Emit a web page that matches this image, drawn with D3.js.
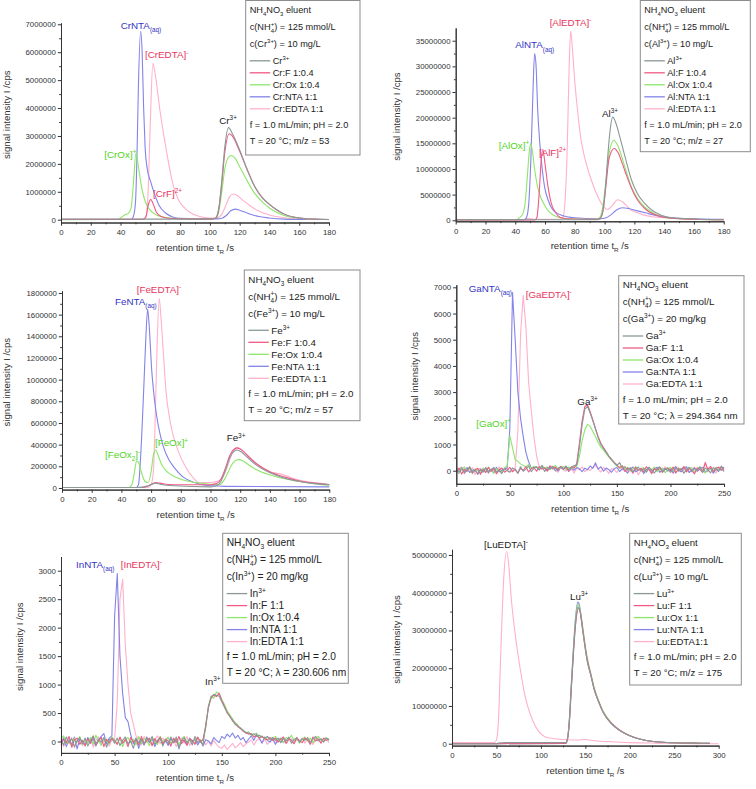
<!DOCTYPE html>
<html>
<head>
<meta charset="utf-8">
<script src="https://cdn.jsdelivr.net/npm/d3@7"></script>
<style>
body { margin: 0; background: #fff; }
svg { display: block; font-family: Arial, "Liberation Sans", sans-serif; }
</style>
</head>
<body>
<svg id="chart" width="756" height="789"></svg>
<script>
// ---------- data ----------
const ticks180 = [0, 20, 40, 60, 80, 100, 120, 140, 160, 180];
const ticks250 = [0, 50, 100, 150, 200, 250];
const ticks300 = [0, 50, 100, 150, 200, 250, 300];
const crTicks = [0, 1e6, 2e6, 3e6, 4e6, 5e6, 6e6, 7e6];
const alTicks = [0, 5e6, 10e6, 15e6, 20e6, 25e6, 30e6, 35e6];
const feTicks = [0, 2e5, 4e5, 6e5, 8e5, 10e5, 12e5, 14e5, 16e5, 18e5];
const gaTicks = [0, 1000, 2000, 3000, 4000, 5000, 6000, 7000];
const inTicks = [0, 500, 1000, 1500, 2000, 2500, 3000];
const luTicks = [0, 1e7, 2e7, 3e7, 4e7, 5e7];

// Cr, m/z 53  [retention time s, intensity cps]
const crM = [[0,2e4],[100,2e4],[103.5,5e4],[106,4e5],[108,1.4e6],[110,2.6e6],[112.5,3.3e6],[115,3.1e6],[120,2.5e6],[125,1.8e6],[130,1.2e6],[135,8e5],[140,5.5e5],[145,3.5e5],[150,2e5],[160,6e4],[170,2e4],[180,1e4]];
const crF = [[0,1e4],[55,1e4],[57,1e5],[58.5,5e5],[60.3,7.3e5],[62,5.5e5],[64,2.8e5],[67,1.2e5],[72,5e4],[80,3e4],[100,2e4],[104,5e4],[106,4e5],[108,1.3e6],[110,2.4e6],[113,3.08e6],[115,3e6],[120,2.45e6],[125,1.8e6],[130,1.2e6],[135,8e5],[140,5.5e5],[145,3.5e5],[150,2e5],[160,6e4],[170,2e4],[180,1e4]];
const crOx = [[0,0],[38,1e4],[41,1e5],[43,1.8e5],[45,2.2e5],[47,4e5],[48.5,1.2e6],[50.4,2.4e6],[52,1.9e6],[54,1.2e6],[56,7.5e5],[58,4.8e5],[61,2.8e5],[65,1.5e5],[70,8e4],[80,4e4],[100,2e4],[104,5e4],[106,3e5],[108,1e6],[110,1.8e6],[112,2.2e6],[114.2,2.3e6],[117,2.2e6],[120,1.9e6],[125,1.4e6],[130,9.5e5],[135,6.5e5],[140,4.2e5],[145,2.6e5],[150,1.5e5],[160,5e4],[170,1.5e4],[180,5e3]];
const crNTA = [[0,1e4],[47,1e4],[48.5,1e5],[50,6e5],[51,2.2e6],[52,4.8e6],[53.5,6.75e6],[54.5,6e6],[55.5,4e6],[56.5,2.6e6],[58,1.8e6],[60,1.4e6],[63,9e5],[66,5e5],[70,2.5e5],[75,1e5],[80,5e4],[105,3e4],[108,5e4],[111,1.5e5],[114,3.2e5],[117,3.8e5],[120,3.4e5],[125,2.4e5],[130,1.5e5],[140,6e4],[150,2e4],[165,5e3]];
const crEDTA = [[0,2e4],[55,2e4],[57,1e5],[58.5,1e6],[60,3.5e6],[61.7,5.6e6],[63,5.3e6],[66.5,3.9e6],[71,2.4e6],[75.5,1.2e6],[79,7e5],[82.5,4.5e5],[87,2.5e5],[92,1.3e5],[100,6e4],[105,6e4],[108,2e5],[111,5.5e5],[113,8e5],[115.7,9.2e5],[118,8.8e5],[122,7e5],[127,5e5],[132,3.3e5],[140,1.7e5],[150,7e4],[160,2.5e4],[170,1e4]];

// Al, m/z 27
const alM = [[0,1e5],[95,1e5],[97,3e5],[99,2e6],[100.5,6e6],[102,12e6],[103.5,17e6],[105.5,20.1e6],[107.5,19e6],[110,16.5e6],[112,14.3e6],[115,11e6],[118,7.9e6],[122,5.2e6],[127,3.3e6],[132,1.9e6],[138,1e6],[145,5e5],[160,2.5e5],[180,1e5]];
const alF = [[0,5e4],[53,5e4],[54.5,5e5],[56,5e6],[57.5,12e6],[58.5,13.8e6],[60,11e6],[62,6.5e6],[64,3.5e6],[67,1.5e6],[70,6e5],[75,3e5],[95,2e5],[97,4e5],[99,2e6],[101,7e6],[103,12e6],[106.4,14e6],[109,13.2e6],[112,11e6],[115,8.5e6],[118,6.3e6],[122,4e6],[127,2.3e6],[132,1.3e6],[138,7e5],[145,4e5],[160,2e5],[180,1e5]];
const alOx = [[0,5e4],[40,1e5],[43,5e5],[45,1.2e6],[46.5,3e6],[48,8e6],[49.3,13e6],[50.4,15e6],[51.5,13.5e6],[53,10e6],[55,6.5e6],[57.5,4.2e6],[60,2.8e6],[63,1.6e6],[67,8e5],[72,4e5],[80,2.5e5],[95,2e5],[97,6e5],[99,3e6],[101,8e6],[103,13e6],[106.2,15.6e6],[109,14.5e6],[113.6,10.4e6],[118,6.5e6],[122,4.3e6],[127,2.6e6],[132,1.5e6],[138,7e5],[145,4e5],[160,2e5],[180,1e5]];
const alNTA = [[0,1e5],[46,1e5],[47.5,5e5],[49,3e6],[50.5,12e6],[52,26e6],[53,32.5e6],[54,30e6],[55,22e6],[56.5,15e6],[57.5,11.7e6],[59.7,6.5e6],[62,4e6],[64,2.6e6],[67,1.6e6],[71,1e6],[80,5e5],[95,3e5],[100,4e5],[104,1e6],[108,2e6],[112,2.45e6],[116,2.3e6],[120,2e6],[128,1.4e6],[135,9e5],[145,5e5],[160,3e5],[180,2e5]];
const alEDTA = [[0,1e5],[45,1e5],[47,3e5],[49.5,4e5],[52,2e5],[70,2e5],[72,6e5],[73.5,4e6],[75,15e6],[76.2,30e6],[77.2,36.9e6],[78.5,33e6],[80,27e6],[82,21e6],[84,16e6],[86.5,12.4e6],[91,7.9e6],[95.5,4.6e6],[99,2.8e6],[102,2.1e6],[105,2.8e6],[108.8,4e6],[112,3.6e6],[117.7,2e6],[122,1.5e6],[126.7,1e6],[132,7e5],[140,5e5],[160,2e5],[180,1e5]];

// Fe, m/z 57
const feM = [[0,5e3],[50,5e3],[55,1e4],[60,3e4],[63,4.5e4],[66,3.5e4],[75,2e4],[100,1e4],[104,2e4],[107,6e4],[110,1.6e5],[113,2.8e5],[116,3.4e5],[118,3.5e5],[121,3.3e5],[125,2.8e5],[130,2.2e5],[140,1.4e5],[150,9e4],[160,6e4],[170,4e4],[180,3e4]];
const feF = [[0,5e3],[55,5e3],[58,2e4],[61,4e4],[63,5e4],[66,4.5e4],[70,3.5e4],[80,3e4],[100,3e4],[104,4e4],[107,8e4],[110,1.8e5],[113,3e5],[116,3.6e5],[118,3.7e5],[121,3.5e5],[125,3e5],[130,2.35e5],[140,1.5e5],[150,1e5],[160,6.5e4],[170,4.5e4],[180,3.2e4]];
const feOx = [[0,5e3],[45,5e3],[47,3e4],[48.5,1.2e5],[50.3,2.5e5],[52,2.2e5],[54,1.2e5],[56,6e4],[58,5e4],[60,1.5e5],[61.5,3e5],[63.1,3.5e5],[65,2.9e5],[67,2.2e5],[70,1.6e5],[75,1.1e5],[80,8e4],[90,5e4],[100,3.5e4],[106,3e4],[109,7e4],[112,1.5e5],[115,2.3e5],[118.5,2.62e5],[122,2.5e5],[126,2.1e5],[130,1.75e5],[140,1.2e5],[150,8.5e4],[160,6e4],[170,4e4],[180,2.5e4]];
const feNTA = [[0,5e3],[50,5e3],[51.5,3e4],[53,3e5],[55,9e5],[56.5,1.4e6],[57.7,1.65e6],[58.7,1.5e6],[60.4,1.09e6],[62,8.5e5],[63.8,6.6e5],[66,5e5],[68.3,3.8e5],[72,2.6e5],[75,2e5],[81.7,1e5],[88,5.5e4],[93,3.5e4],[100,2e4],[110,1.5e4],[180,1e4]];
const feEDTA = [[0,5e3],[58,5e3],[60,3e4],[61.5,1.5e5],[62.5,5e5],[63.8,1.2e6],[65.5,1.75e6],[66.5,1.6e6],[68,1.3e6],[70,9e5],[73,6e5],[78,3.5e5],[83,2e5],[88,1e5],[92,5e4],[100,5e4],[106,7e4],[109,1.2e5],[112,2.2e5],[115,3.3e5],[118.7,3.7e5],[122,3.4e5],[126,2.8e5],[130,2.3e5],[140,1.5e5],[147,1.3e5],[160,7e4],[170,5e4],[178,3.5e4]];

// Ga and In: one reading every 2.5 s from t = 0
const gridStep = 2.5;
const gaM = [80,-40,120,-90,30,150,-60,10,-120,60, -30,90,-80,40,130,-50,20,-110,70,0, -60,110,30,-90,150,-20,60,180,-40,90, 140,20,200,-30,110,60,170,-10,90,150, 80,180,40,120,200,200,900,1750,2350,2450, 2200,1900,1600,1250,1000,850,700,550,420,300, 200,310,90,150,20,120,-40,60,140,-20, 80,-60,130,30,-90,70,150,-30,40,110, -70,60,160,-20,90,-100,50,130,-40,80, 20,150,-60,100,30,-80,120,60,-30,180,40];
const gaF = [-50,100,-130,60,-20,140,-90,30,90,-140, 50,-70,120,-30,80,-120,40,100,-60,20, 130,-40,60,-100,90,10,150,-50,70,120, -20,160,60,110,-10,190,80,140,30,170, 60,130,-20,150,90,280,1050,1900,2450,2520, 2250,1950,1600,1300,1050,880,720,560,430,320, 220,120,180,-30,100,60,-80,130,10,90, -40,150,40,-110,80,20,130,-70,60,100, -20,140,-90,70,30,160,-50,90,10,-120, 110,40,-60,300,50,170,-30,90,130,20,140];
const gaOx = [120,-80,40,150,-30,90,-110,60,20,-70, 100,-40,140,10,-90,70,30,-60,110,180, 1330,880,420,360,260,200,150,230,90,170, 120,60,190,80,150,40,130,200,70,110, 160,30,140,90,120,180,550,1150,1550,1770, 1700,1500,1300,1080,900,780,650,520,400,280, 180,90,200,40,130,-20,80,150,10,70, 120,-60,90,30,140,-40,60,100,-80,50, 130,10,-70,90,40,150,-30,80,120,-50, 60,140,20,-90,100,50,-20,130,70,10,90];
const gaNTA = [40,-100,80,-30,120,-70,10,60,-140,30, -60,110,-20,50,-90,130,-40,20,80,100, 1600,6800,5000,3000,2000,1300,700,350,100,140, 150,60,180,90,20,140,70,110,-10,130, 50,160,-30,90,20,120,70,-40,100,30, 180,90,300,60,150,-20,100,40,-60,80, 120,-30,70,10,-90,60,140,-40,20,90, -110,50,100,-20,70,130,-60,30,80,-10, 60,-80,110,20,-40,90,150,-70,40,100, -20,70,130,-50,10,90,-100,60,20,140,-30];
const gaEDTA = [-90,60,140,-120,20,-40,110,-150,50,90, -20,130,-100,70,10,-60,150,-30,40,90, -50,20,100,1500,5200,6700,5500,3400,2300,1300, 550,150,60,120,-30,80,140,20,-60,110, 40,-20,130,60,-90,100,30,150,-40,70, 10,120,200,60,-50,130,20,-100,80,40, -70,110,30,150,-40,60,-120,90,-160,20, 70,-30,140,-80,40,110,-60,20,160,-20, 90,-110,50,130,-40,10,100,-70,60,140, -30,80,20,330,-50,120,40,-90,150,60,-20];

const inM = [30,-60,80,-20,50,-90,10,70,-40,60, -80,20,90,-50,40,-10,70,-100,30,50, -30,60,-70,20,80,-40,10,-120,50,-20, 40,-60,70,-10,90,-50,20,60,-80,30, -40,80,-20,50,-110,10,70,-30,40,-60, 90,-20,30,-70,300,590,780,830,810,800, 700,600,520,435,380,300,270,240,190,160, 150,120,135,90,110,75,60,90,40,70, 20,60,-20,50,10,80,-30,40,60,-10, 50,20,70,-20,40,90,10,50,-10,60,30];
const inF = [-70,40,-20,90,-100,30,60,-50,20,-80, 50,-30,100,-60,10,70,-90,40,-20,60, 10,-50,80,-30,40,-90,70,-10,30,-60, 90,-40,20,60,-70,50,-20,80,-50,40, 10,-80,60,-20,90,-40,30,-70,50,20, -50,80,-10,40,260,610,760,820,790,850, 720,620,500,450,360,320,260,230,180,150, 130,140,80,100,60,90,50,30,70,20, 60,-10,40,80,-30,50,20,-40,70,10, -20,60,30,-50,80,10,40,-30,60,20,50];
const inOx = [50,100,-40,20,-80,60,-10,90,-60,30, -20,70,-50,110,20,-70,50,10,-40,80, 20,-40,60,-90,30,70,-20,40,-60,90, -30,50,10,-70,60,20,-50,90,-10,40, 70,-30,20,60,-60,40,90,-20,50,-40, 30,70,-10,20,240,620,800,760,870,840, 740,650,540,470,400,330,290,220,200,150, 170,110,120,150,70,100,40,80,30,60, 90,20,50,-20,70,40,110,10,60,-30, 40,80,10,60,-20,50,90,20,40,70,10];
const inNTA = [-20,60,-90,30,-50,80,-130,40,10,-60, 70,-30,50,-80,20,90,140,-40,60,100, 2200,2950,1500,850,420,350,120,-40,60,-120, 30,-60,80,-20,50,-90,10,60,-40,20, -70,50,-20,80,-130,30,10,-50,60,-10, 40,-60,20,-80,30,10,-40,70,20,-20, 90,50,130,80,150,60,110,30,70,-20, 40,100,20,130,60,-30,80,20,-10,50, -50,30,60,-20,40];
const inEDTA = [40,-90,20,-40,70,-110,30,50,-70,10, -30,60,-100,20,80,-50,10,40,-80,30, 40,700,2500,2850,1700,1000,500,300,100,40, -60,90,-20,50,-80,30,100,-40,60,-10, 80,-50,20,-90,40,60,-30,90,-70,20, -40,50,-10,30,-60,10,-80,20,-50,-100, -120,-60,-140,-90,-30,-110,-70,-20,-90,-40, -10,30,-60,20,50,-20,40,-50,10,60, -30,40,-10,70,-40,20,50,-20,30,10, 60,-30,40,10,-50,30,70,-10,20,40,-20];

// Lu, m/z 175
const luM = [[0,0],[50,0],[52,2e5],[60,3e5],[128,3e5],[130,1.5e6],[132,6e6],[134,14e6],[136.5,24e6],[139,32e6],[142,36.3e6],[144,35e6],[147,30e6],[149,26.6e6],[152,22e6],[156.5,17.8e6],[160,14.3e6],[164,11.6e6],[170,8.3e6],[179,5.4e6],[188,3.6e6],[198,2.3e6],[210,1.3e6],[217,9e5],[230,5e5],[250,2.5e5],[270,1.5e5],[290,1e5]];
const luF = [[0,0],[128,1e5],[130,1.2e6],[132,5.5e6],[134,13.5e6],[136.5,23.5e6],[139,31.5e6],[142.5,35.8e6],[145,34e6],[147,30.5e6],[149,27e6],[152,22.5e6],[156.5,18e6],[160,14.5e6],[164,11.8e6],[170,8.4e6],[179,5.5e6],[188,3.7e6],[198,2.3e6],[210,1.3e6],[217,9e5],[230,5e5],[250,2.5e5],[270,1.5e5],[290,1e5]];
const luOx = [[0,0],[128,1e5],[130,1.4e6],[132,6e6],[134,14.5e6],[136.5,24.5e6],[139,33e6],[142,37e6],[144,35.5e6],[147,31e6],[149,27.5e6],[152,23e6],[156.5,18.3e6],[160,14.8e6],[164,12e6],[170,8.6e6],[179,5.6e6],[188,3.7e6],[198,2.4e6],[210,1.3e6],[217,9e5],[230,5e5],[250,2.5e5],[270,1.5e5],[290,1e5]];
const luNTA = [[0,0],[128,1e5],[130,1.5e6],[132,6.5e6],[134,15e6],[136.5,25e6],[139,33.5e6],[141.5,37.5e6],[143.5,36.5e6],[146,32e6],[149,26.8e6],[152,22.2e6],[156.5,17.9e6],[160,14.4e6],[164,11.7e6],[170,8.4e6],[179,5.4e6],[188,3.6e6],[198,2.3e6],[210,1.3e6],[217,9e5],[230,5e5],[250,2.5e5],[270,1.5e5],[290,1e5]];
const luEDTA = [[0,3e5],[48,3e5],[50,1e6],[52,5e6],[55,25e6],[58,43e6],[61.5,50.9e6],[64,47e6],[66.5,39e6],[70,31e6],[74,24e6],[78,18e6],[81.5,13.4e6],[85,10e6],[89,7.2e6],[93,5e6],[96.5,3.6e6],[100,2.6e6],[104,1.9e6],[110,1.5e6],[115,1.3e6],[125,1.1e6],[135,1e6],[142,1e6],[150,1.1e6],[160,8e5],[180,5e5],[200,3e5],[230,1.5e5],[260,5e4],[300,0]];

// legend texts ( _{..} subscript, ^{..} superscript )
const crNames = ["Cr^{3+}", "Cr:F 1:0.4", "Cr:Ox 1:0.4", "Cr:NTA 1:1", "Cr:EDTA 1:1"];
const alNames = ["Al^{3+}", "Al:F 1:0.4", "Al:Ox 1:0.4", "Al:NTA 1:1", "Al:EDTA 1:1"];
const feNames = ["Fe^{3+}", "Fe:F 1:0.4", "Fe:Ox 1:0.4", "Fe:NTA 1:1", "Fe:EDTA 1:1"];
const gaNames = ["Ga^{3+}", "Ga:F 1:1", "Ga:Ox 1:0.4", "Ga:NTA 1:1", "Ga:EDTA 1:1"];
const inNames = ["In^{3+}", "In:F 1:1", "In:Ox 1:0.4", "In:NTA 1:1", "In:EDTA 1:1"];
const luNames = ["Lu^{3+}", "Lu:F 1:1", "Lu:Ox 1:1", "Lu:NTA 1:1", "Lu:EDTA1:1"];

const eluent = ["NH_{4}NO_{3} eluent", "c(NH_{4}^{+}) = 125 mmol/L"];
const flow = "f = 1.0 mL/min; pH = 2.0";
const crInfo = ["c(Cr^{3+}) = 10 mg/L", "T = 20 °C; m/z = 53"];
const alInfo = ["c(Al^{3+}) = 10 mg/L", "T = 20 °C; m/z = 27"];
const feInfo = ["c(Fe^{3+}) = 10 mg/L", "T = 20 °C; m/z = 57"];
const gaInfo = ["c(Ga^{3+}) = 20 mg/kg", "T = 20 °C; λ = 294.364 nm"];
const inInfo = ["c(In^{3+}) = 20 mg/kg", "T = 20 °C; λ = 230.606 nm"];
const luInfo = ["c(Lu^{3+}) = 10 mg/L", "T = 20 °C; m/z = 175"];

// peak labels: [text, t, intensity, colour key]
const crLabels = [["CrNTA_{(aq)}", 40.1, 6.9e6, "NTA"], ["[CrEDTA]^{-}", 56.4, 5.83e6, "EDTA"], ["Cr^{3+}", 106.3, 3.5e6, "M"], ["[CrOx]^{+}", 29.1, 2.25e6, "Ox"], ["[CrF]^{2+}", 61.8, 0.885e6, "F"]];
const alLabels = [["AlNTA_{(aq)}", 40, 33.8e6, "NTA"], ["[AlEDTA]^{-}", 63.1, 38.1e6, "EDTA"], ["Al^{3+}", 98.3, 20.5e6, "M"], ["[AlOx]^{+}", 28.9, 14.2e6, "Ox"], ["[AlF]^{2+}", 55.9, 12.9e6, "F"]];
const feLabels = [["[FeEDTA]^{-}", 50.3, 1.812e6, "EDTA"], ["FeNTA_{(aq)}", 35.7, 1.705e6, "NTA"], ["Fe^{3+}", 110.9, 0.443e6, "M"], ["[FeOx_{2}]^{-}", 29, 0.289e6, "Ox"], ["[FeOx]^{+}", 62.6, 0.397e6, "Ox"]];
const gaLabels = [["GaNTA_{(aq)}", 11.6, 6894, "NTA"], ["[GaEDTA]^{-}", 64.8, 6639, "EDTA"], ["Ga^{3+}", 113, 2571, "M"], ["[GaOx]^{+}", 18.7, 1744, "Ox"]];
const inLabels = [["InNTA_{(aq)}", 14, 3071, "NTA"], ["[InEDTA]^{-}", 55.7, 3071, "EDTA"], ["In^{3+}", 134.3, 1022, "M"]];
const luLabels = [["[LuEDTA]^{-}", 36, 52.2e6, "M"], ["Lu^{3+}", 132.7, 38.5e6, "M"]];

// ---------- styles ----------
const keys = ["M", "F", "Ox", "NTA", "EDTA"];
const drawOrder = ["EDTA", "NTA", "Ox", "F", "M"];
const lineColor = { M: "#8a9898", F: "#f05a84", Ox: "#8de66a", NTA: "#8383e8", EDTA: "#ffb0cc" };
const textColor = { M: "#222", F: "#e8365d", Ox: "#52d424", NTA: "#3434c4", EDTA: "#e8365d" };
const ink = "#333";

const panels = [
  { s: { M: crM, F: crF, Ox: crOx, NTA: crNTA, EDTA: crEDTA }, names: crNames, info: crInfo, labels: crLabels,
    xr: [61, 329], yr: [222.5, 22.9], xd: [0, 180], yd: [-1e5, 7.05e6], xt: ticks180, yt: crTicks, ylx: 10, box: [245.7, 0.5, 114.3, 154.5], lfs: 9.2 },
  { s: { M: alM, F: alF, Ox: alOx, NTA: alNTA, EDTA: alEDTA }, names: alNames, info: alInfo, labels: alLabels,
    xr: [455.7, 723.7], yr: [221.3, 27.9], xd: [0, 180], yd: [-2e5, 37.5e6], xt: ticks180, yt: alTicks, ylx: 400, box: [640.3, 0.5, 110, 151.2], lfs: 9.1 },
  { s: { M: feM, F: feF, Ox: feOx, NTA: feNTA, EDTA: feEDTA }, names: feNames, info: feInfo, labels: feLabels,
    xr: [62, 329.3], yr: [489.6, 290.8], xd: [0, 180], yd: [-1.5e4, 1.82e6], xt: ticks180, yt: feTicks, ylx: 9.5, box: [244.3, 270, 115.7, 150.7], lfs: 9.8 },
  { s: { M: gaM, F: gaF, Ox: gaOx, NTA: gaNTA, EDTA: gaEDTA }, noisy: true, names: gaNames, info: gaInfo, labels: gaLabels,
    xr: [456.3, 724], yr: [483.8, 284.7], xd: [0, 250], yd: [-500, 7100], xt: ticks250, yt: gaTicks, ylx: 418, box: [618.7, 275.7, 125.3, 148.3], lfs: 9.8 },
  { s: { M: inM, F: inF, Ox: inOx, NTA: inNTA, EDTA: inEDTA }, noisy: true, names: inNames, info: inInfo, labels: inLabels,
    xr: [61, 329], yr: [752.9, 556.5], xd: [0, 250], yd: [-200, 3250], xt: ticks250, yt: inTicks, ylx: 22.5, box: [222.7, 533.3, 125.6, 150], lfs: 10.2 },
  { s: { M: luM, F: luF, Ox: luOx, NTA: luNTA, EDTA: luEDTA }, names: luNames, info: luInfo, labels: luLabels,
    xr: [452, 718.7], yr: [745.6, 549.3], xd: [0, 300], yd: [-5e5, 51.5e6], xt: ticks300, yt: luTicks, ylx: 400, box: [629.7, 533.3, 111.6, 151.7], lfs: 9.6 }
];

const svg = d3.select("#chart");

// text with sub/superscripts written as _{..} and ^{..}
function rich(text, str, fs) {
  const parts = str.match(/_\{[^}]*\}|\^\{[^}]*\}|[^_^]+/g);
  let shift = 0, prevSub = 0;
  parts.forEach(p => {
    let mode = 0, s = p;
    if (p[0] === "_") { mode = 1; s = p.slice(2, -1); }
    else if (p[0] === "^") { mode = 2; s = p.slice(2, -1); }
    const target = mode === 1 ? 0.32 * fs : mode === 2 ? -0.4 * fs : 0;
    const ts = text.append("tspan")
      .attr("dy", (target - shift).toFixed(2))
      .attr("font-size", mode ? fs * 0.65 : fs)
      .text(s);
    if (mode === 2 && prevSub) ts.attr("dx", -(prevSub * fs * 0.65 * 0.556).toFixed(2));
    prevSub = mode === 1 ? s.length : 0;
    shift = target;
  });
}

function styleAxis(g) {
  g.select(".domain").attr("stroke", ink).attr("stroke-width", 1);
  g.selectAll(".tick line").attr("stroke", ink).attr("stroke-width", 1);
  g.selectAll(".tick text").attr("fill", ink).attr("font-size", 7.8)
    .attr("font-family", 'Arial, "Liberation Sans", sans-serif');
}

panels.forEach(p => {
  const x = d3.scaleLinear().domain(p.xd).range(p.xr);
  const y = d3.scaleLinear().domain(p.yd).range(p.yr);
  const g = svg.append("g");

  // curves
  const line = d3.line()
    .x(d => x(d[0])).y(d => y(d[1]))
    .curve(p.noisy ? d3.curveLinear : d3.curveMonotoneX);
  drawOrder.forEach(k => {
    const pts = p.noisy ? p.s[k].map((v, i) => [i * gridStep, v]) : p.s[k];
    g.append("path")
      .attr("d", line(pts))
      .attr("fill", "none")
      .attr("stroke", lineColor[k])
      .attr("stroke-width", 1.1)
      .attr("stroke-linejoin", "round");
  });

  // axes with minor ticks
  const minorX = p.xt.slice(1).map((v, i) => (v + p.xt[i]) / 2);
  const minorY = p.yt.slice(1).map((v, i) => (v + p.yt[i]) / 2);
  g.append("g").attr("transform", `translate(0,${p.yr[0]})`)
    .call(d3.axisBottom(x).tickValues(minorX).tickSize(1.8).tickSizeOuter(0).tickFormat(""))
    .call(styleAxis);
  g.append("g").attr("transform", `translate(0,${p.yr[0]})`)
    .call(d3.axisBottom(x).tickValues(p.xt).tickSize(3.2).tickSizeOuter(0).tickPadding(3.5).tickFormat(d3.format("d")))
    .call(styleAxis);
  g.append("g").attr("transform", `translate(${p.xr[0]},0)`)
    .call(d3.axisLeft(y).tickValues(minorY).tickSize(1.8).tickSizeOuter(0).tickFormat(""))
    .call(styleAxis);
  g.append("g").attr("transform", `translate(${p.xr[0]},0)`)
    .call(d3.axisLeft(y).tickValues(p.yt).tickSize(3.2).tickSizeOuter(0).tickPadding(2).tickFormat(d3.format("d")))
    .call(styleAxis);

  // axis titles
  const xt = g.append("text")
    .attr("x", (p.xr[0] + p.xr[1]) / 2).attr("y", p.yr[0] + 28)
    .attr("text-anchor", "middle").attr("fill", ink);
  rich(xt, "retention time t_{R} /s", 9.6);
  g.append("text")
    .attr("transform", `translate(${p.ylx},${(p.yr[0] + p.yr[1]) / 2 - 8}) rotate(-90)`)
    .attr("text-anchor", "middle").attr("fill", ink).attr("font-size", 9.6)
    .text("signal intensity I /cps");

  // peak labels
  p.labels.forEach(([txt, t, v, k]) => {
    const lt = g.append("text")
      .attr("x", x(t)).attr("y", y(v) + 1.5)
      .attr("fill", textColor[k]);
    rich(lt, txt, 9.8);
  });

  // legend box
  const [bx, by, bw, bh] = p.box;
  const fs = p.lfs;
  const lg = g.append("g").attr("transform", `translate(${bx},${by})`);
  lg.append("rect").attr("width", bw).attr("height", bh)
    .attr("fill", "#fff").attr("stroke", "#8c8c8c").attr("stroke-width", 1);
  const rows = [eluent[0], eluent[1], p.info[0]];
  const rowY = [12.5, 29.5, 46.5];
  rows.forEach((r, i) => {
    const t = lg.append("text").attr("x", 4).attr("y", rowY[i]).attr("fill", "#222");
    rich(t, r, fs);
  });
  keys.forEach((k, i) => {
    const ly = 63.5 + i * 12;
    lg.append("line").attr("x1", 4).attr("x2", 24.5)
      .attr("y1", ly - 3.2).attr("y2", ly - 3.2)
      .attr("stroke", lineColor[k]).attr("stroke-width", 1.3);
    const t = lg.append("text").attr("x", 27).attr("y", ly).attr("fill", "#222");
    rich(t, p.names[i], fs);
  });
  [flow, p.info[1]].forEach((r, i) => {
    const t = lg.append("text").attr("x", 4).attr("y", 127 + i * 16).attr("fill", "#222");
    rich(t, r, fs);
  });
});
</script>
</body>
</html>
